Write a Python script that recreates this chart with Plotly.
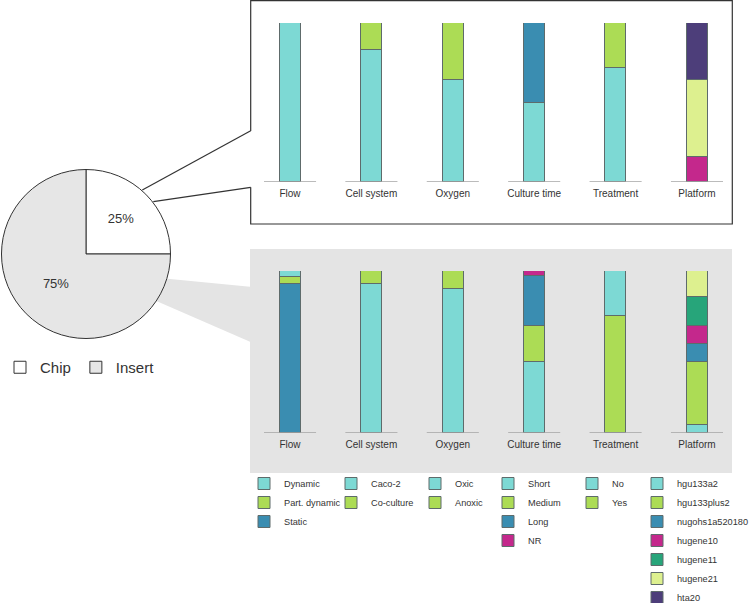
import plotly.graph_objects as go

W, H = 749, 603

# ---------------- data ----------------
categories = ["Flow", "Cell system", "Oxygen", "Culture time", "Treatment", "Platform"]

flow_levels = ["Dynamic", "Part. dynamic", "Static"]
flow_chip = [100, 0, 0]
flow_insert = [4, 4, 92]

cell_levels = ["Caco-2", "Co-culture"]
cell_chip = [83, 17]
cell_insert = [92, 8]

oxygen_levels = ["Oxic", "Anoxic"]
oxygen_chip = [64, 36]
oxygen_insert = [89, 11]

culture_levels = ["Short", "Medium", "Long", "NR"]
culture_chip = [50, 0, 50, 0]
culture_insert = [44, 22, 31, 3]

treatment_levels = ["No", "Yes"]
treatment_chip = [72, 28]
treatment_insert = [28, 72]

platform_levels = ["hgu133a2", "hgu133plus2", "nugohs1a520180", "hugene10",
                   "hugene11", "hugene21", "hta20"]
platform_chip = [0, 0, 0, 16, 0, 48, 36]
platform_insert = [5, 39, 11, 11, 18, 16, 0]

pie_labels = ["Chip", "Insert"]
pie_values = [25, 75]

# bottom-up stacking order in the Insert panel where it differs from the legend order
insert_order_flow = ["Static", "Part. dynamic", "Dynamic"]
insert_order_treatment = ["Yes", "No"]

# ---------------- styles ----------------
CYAN, GREEN, BLUE = "#7DD9D4", "#ACDC55", "#3A8DB1"
MAGENTA, TEAL, PALE, PURPLE = "#C4288C", "#27A57A", "#DDF08F", "#4D3E7A"
FONT = "Liberation Sans, Arial, sans-serif"
TXT = "#333333"


def px(x):
    return x / W


def py(y):
    return 1 - y / H


groups = [
    (categories[0], flow_levels, flow_chip, flow_insert, [CYAN, GREEN, BLUE], insert_order_flow),
    (categories[1], cell_levels, cell_chip, cell_insert, [CYAN, GREEN], None),
    (categories[2], oxygen_levels, oxygen_chip, oxygen_insert, [CYAN, GREEN], None),
    (categories[3], culture_levels, culture_chip, culture_insert, [CYAN, GREEN, BLUE, MAGENTA], None),
    (categories[4], treatment_levels, treatment_chip, treatment_insert, [CYAN, GREEN], insert_order_treatment),
    (categories[5], platform_levels, platform_chip, platform_insert,
     [CYAN, GREEN, BLUE, MAGENTA, TEAL, PALE, PURPLE], None),
]

fig = go.Figure()

# left x of each legend column (pixels)
legend_left = [244, 331, 415, 488, 572, 637]
legend_layouts = {}

for gi, (cat, levels, chip, insert, colors, ins_order) in enumerate(groups):
    legname = "legend" if gi == 0 else f"legend{gi + 1}"
    shown = set()
    for panel, vals, order, xa, ya in [
        ("Chip", chip, levels, "x", "y"),
        ("Insert", insert, ins_order or levels, "x2", "y2"),
    ]:
        for lev in order:
            idx = levels.index(lev)
            v = vals[idx]
            if v <= 0:
                continue
            fig.add_trace(go.Bar(
                x=[cat], y=[v], name=lev,
                legendgroup=f"{cat}|{lev}",
                showlegend=lev not in shown,
                legend=legname, legendrank=100 + idx,
                marker=dict(color=colors[idx], line=dict(color="#5E6B6B", width=1)),
                width=0.26, xaxis=xa, yaxis=ya,
                hovertemplate=f"{panel} – {cat}<br>{lev}: %{{y}}%<extra></extra>",
            ))
            shown.add(lev)
    legend_layouts[legname] = dict(
        x=px(legend_left[gi]), xanchor="left", y=py(469), yanchor="top",
        bgcolor="rgba(0,0,0,0)", borderwidth=0, tracegroupgap=0,
        font=dict(family=FONT, size=9.2, color=TXT), traceorder="normal",
    )

fig.add_trace(go.Pie(
    labels=pie_labels, values=pie_values, sort=False,
    direction="clockwise", rotation=0,
    domain=dict(x=[px(1.5), px(170.5)], y=[py(338.5), py(169.5)]),
    marker=dict(colors=["#FFFFFF", "#E6E6E6"], line=dict(color="#333333", width=1)),
    textinfo="percent", textposition="inside", insidetextorientation="horizontal",
    textfont=dict(family=FONT, size=13, color=TXT),
    legend="legend7", hoverinfo="label+percent",
))
legend_layouts["legend7"] = dict(
    orientation="h", x=px(0), xanchor="left", y=py(351), yanchor="top",
    bgcolor="rgba(0,0,0,0)", font=dict(family=FONT, size=15, color=TXT),
)

# ---------------- axes ----------------
axis_x = dict(showgrid=False, zeroline=False, showline=False, ticks="",
              tickfont=dict(family=FONT, size=10, color=TXT), ticklabelstandoff=4,
              type="category", categoryorder="array", categoryarray=categories,
              range=[-0.483, 5.434], fixedrange=True)
axis_y = dict(visible=False, range=[0, 100], fixedrange=True)

fig.update_layout(
    xaxis=dict(axis_x, domain=[px(250.7), px(732.3)], anchor="y"),
    yaxis=dict(axis_y, domain=[py(182), py(23)], anchor="x"),
    xaxis2=dict(axis_x, domain=[px(250.7), px(732.3)], anchor="y2"),
    yaxis2=dict(axis_y, domain=[py(433), py(271)], anchor="x2"),
)

# ---------------- decorations ----------------
shapes = []
# grey Insert panel and wedge linking it to the pie
shapes.append(dict(type="rect", xref="paper", yref="paper", layer="below",
                   x0=px(250), x1=px(732), y0=py(473), y1=py(249),
                   fillcolor="#E4E4E4", line=dict(width=0)))
wedge = [(165, 278.4), (250, 286.7), (250, 341.7), (150, 298.2)]
shapes.append(dict(type="path", xref="paper", yref="paper", layer="below",
                   path="M " + " L ".join(f"{px(a)},{py(b)}" for a, b in wedge) + " Z",
                   fillcolor="#E4E4E4", line=dict(width=0)))
# Chip panel frame (open where connectors enter) and connectors
frame = [(250.7, 131), (250.7, 0.7), (732.3, 0.7), (732.3, 224), (250.7, 224), (250.7, 187.3)]
shapes.append(dict(type="path", xref="paper", yref="paper",
                   path="M " + " L ".join(f"{px(a)},{py(b)}" for a, b in frame),
                   line=dict(color="#333333", width=1.2)))
for (a, b), (c, d) in [((142.3, 190), (250.7, 130.7)), ((153.3, 201.7), (250.7, 187.3))]:
    shapes.append(dict(type="line", xref="paper", yref="paper",
                       x0=px(a), y0=py(b), x1=px(c), y1=py(d),
                       line=dict(color="#333333", width=1.2)))
# baselines under each bar
for xa, ya in [("x", "y"), ("x2", "y2")]:
    for i in range(len(categories)):
        shapes.append(dict(type="line", xref=xa, yref=ya,
                           x0=i - 0.32, x1=i + 0.32, y0=0, y1=0,
                           line=dict(color="#A5A5A5", width=1.5)))

fig.update_layout(
    width=W, height=H, autosize=False,
    margin=dict(l=0, r=0, t=0, b=0, autoexpand=False),
    paper_bgcolor="white", plot_bgcolor="rgba(0,0,0,0)",
    barmode="stack", bargap=0, showlegend=True,
    font=dict(family=FONT, color=TXT),
    shapes=shapes,
    **legend_layouts,
)

fig.write_html("out.html", config={"displayModeBar": False},
               post_script="document.body.style.margin='0px';")
